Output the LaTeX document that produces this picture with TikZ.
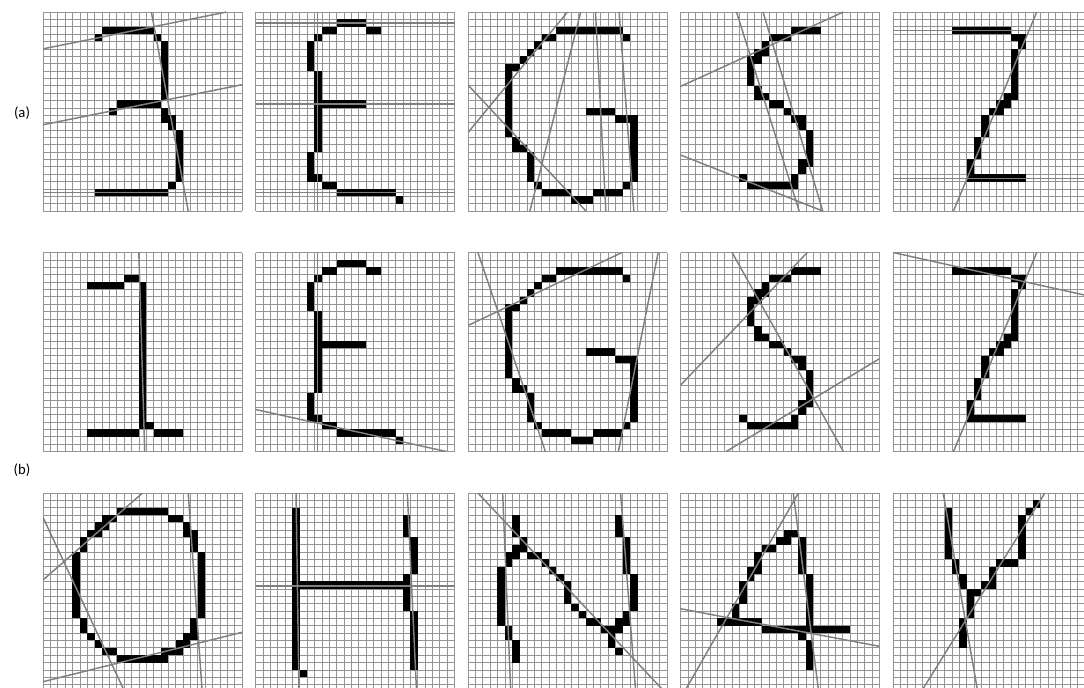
\documentclass[tikz,border=0pt]{standalone}
\usepackage{fontspec}
\setmainfont{Carlito}
\usetikzlibrary{positioning}

% glyph cells: first col/first row/last col/last row
\newcommand{\glyphThree}{8/2/14/2, 7/3/7/3, 15/3/15/3, 16/4/16/11, 10/12/15/12, 9/13/9/13,
  16/13/16/14, 17/14/17/15, 18/16/18/22, 17/23/17/23, 7/24/16/24}
\newcommand{\glyphE}{11/1/14/1, 9/2/10/2, 15/2/16/2, 8/3/8/3, 7/4/7/7, 8/8/8/18, 9/12/14/12,
  7/19/7/22, 8/22/8/22, 9/23/10/23, 11/24/18/24, 19/25/19/25}
\newcommand{\glyphG}{12/2/20/2, 21/3/21/3, 10/3/11/3, 9/4/9/4, 8/5/8/5, 7/6/7/6, 5/7/6/7,
  5/8/5/16, 6/17/6/18, 7/18/7/18, 8/19/8/22, 9/23/9/23, 10/24/13/24, 14/25/16/25,
  17/24/20/24, 21/23/21/23, 22/14/22/22, 20/14/21/14, 16/13/19/13}
\newcommand{\glyphS}{15/2/18/2, 12/3/14/3, 11/4/11/4, 10/5/11/5, 9/6/10/6, 9/7/9/9,
  10/10/10/11, 11/11/11/11, 12/12/13/12, 14/13/14/13, 15/14/16/14, 16/15/16/15,
  17/16/17/19, 16/20/17/20, 16/21/16/21, 15/22/15/23, 9/23/14/23, 8/22/8/22}
\newcommand{\glyphZ}{8/2/15/2, 16/3/17/3, 17/4/17/4, 16/5/16/10, 15/11/16/11, 14/12/15/12,
  13/13/14/13, 12/14/12/16, 11/17/11/19, 10/20/10/21, 10/22/17/22}
\newcommand{\glyphOne}{11/3/12/3, 6/4/10/4, 13/4/13/23, 14/23/14/23, 6/24/12/24, 15/24/18/24}
\newcommand{\glyphO}{10/2/16/2, 8/3/9/3, 17/3/18/3, 7/4/8/4, 19/4/19/5, 6/5/7/5, 20/5/20/7,
  5/6/5/7, 4/8/4/16, 21/8/21/16, 5/17/5/18, 20/17/20/19, 6/19/6/19, 19/19/19/20,
  7/20/7/20, 18/20/18/20, 8/21/9/21, 16/21/18/21, 10/22/16/22}
\newcommand{\glyphH}{5/2/5/23, 6/24/6/24, 6/12/20/12, 20/3/20/5, 21/6/21/10, 20/11/20/15,
  21/16/21/23}
\newcommand{\glyphN}{6/3/6/5, 7/6/7/6, 6/7/7/7, 5/8/6/8, 5/9/5/9, 4/10/4/17, 5/18/5/19,
  6/20/6/22, 8/8/9/8, 10/9/10/9, 11/10/11/10, 12/11/12/11, 13/12/13/14, 14/15/14/15,
  15/16/15/16, 16/17/17/17, 18/18/19/18, 19/19/19/20, 20/21/20/21, 20/17/20/18,
  21/16/21/17, 22/11/22/15, 21/6/21/10, 20/3/20/5}
\newcommand{\glyphFour}{14/5/15/5, 13/6/14/6, 11/7/12/7, 10/8/10/10, 9/10/9/11, 8/12/8/14,
  7/15/7/16, 5/17/10/17, 11/18/22/18, 16/6/16/10, 17/11/17/17, 16/19/16/19, 17/20/17/23}
\newcommand{\glyphY}{7/2/7/8, 8/9/8/10, 9/11/9/12, 10/13/11/13, 10/14/10/16, 9/17/9/20,
  19/1/19/1, 18/2/18/2, 17/3/17/8, 14/9/16/9, 13/10/13/11, 12/12/13/12}

% #1 column, #2 row, #3 glyph, #4 fitted lines
\newcommand{\drawpanel}[4]{%
  \begin{scope}[shift={({43+212.5*#1},{12+240.5*#2})}, x=5.528pt, y=-5.528pt]
    \foreach \k in {0,...,27} {
      \draw[cellgrid] (\k,0) -- (\k,27);
      \draw[cellgrid] (0,\k) -- (27,\k);
    }
    \foreach \a/\b/\c/\d in #3 {\fill[black] (\a,\b) rectangle (\c+1,\d+1);}
    \begin{scope}
      \clip (0,0) rectangle (27,27);
      #4
    \end{scope}
  \end{scope}}

\begin{document}
\begin{tikzpicture}[
  x=0.75pt, y=-0.75pt,
  cellgrid/.style={draw=black!42, line width=0.45pt},
  fitline/.style={draw=black!50, line width=1.1pt},
  tag/.style={font=\fontsize{11}{13}\selectfont, inner sep=0pt},
]
\clip (0,0) rectangle (1084,688);
\fill[white] (0,0) rectangle (1084,688);
\node[tag] (laba) at (22,113) {(a)};
\node[tag] (labb) at (22,470) {(b)};
% row (a)
\drawpanel{0}{0}{\glyphThree}{\draw[fitline] (0,5) -- (24.9,0); \draw[fitline] (0,15.3) -- (27,9.86);
  \draw[fitline] (0,24.5) -- (27,24.5); \draw[fitline] (14.7,0) -- (19.7,27);}
\drawpanel{1}{0}{\glyphE}{\draw[fitline] (0,1.5) -- (27,1.5); \draw[fitline] (0,12.5) -- (27,12.5);
  \draw[fitline] (0,24.5) -- (27,24.5); \draw[fitline] (8.4,0) -- (8.4,27);}
\drawpanel{2}{0}{\glyphG}{\draw[fitline] (0,16.35) -- (13.5,0); \draw[fitline] (0,9.9) -- (16,27);
  \draw[fitline] (15.3,0) -- (8.4,27); \draw[fitline] (17.3,0) -- (18.7,27);
  \draw[fitline] (20.5,0) -- (22.5,27);}
\drawpanel{3}{0}{\glyphS}{\draw[fitline] (0,10.1) -- (22.1,0); \draw[fitline] (7.6,0) -- (16.1,27);
  \draw[fitline] (11.2,0) -- (19.3,27); \draw[fitline] (0,19.4) -- (19.3,27);}
\drawpanel{4}{0}{\glyphZ}{\draw[fitline] (0,2.5) -- (27,2.5); \draw[fitline] (0,22.6) -- (27,22.6);
  \draw[fitline] (19.5,0) -- (8.2,27);}
% row (b), upper
\drawpanel{0}{1}{\glyphOne}{\draw[fitline] (13,0) -- (13.8,27);}
\drawpanel{1}{1}{\glyphE}{\draw[fitline] (8.4,0) -- (8.4,27); \draw[fitline] (0,21.3) -- (25.9,27);}
\drawpanel{2}{1}{\glyphG}{\draw[fitline] (0,9.9) -- (20.9,0); \draw[fitline] (1.35,0) -- (10.5,27);
  \draw[fitline] (25.8,0) -- (20.4,27);}
\drawpanel{3}{1}{\glyphS}{\draw[fitline] (7,0) -- (22.1,27); \draw[fitline] (0,18) -- (17.2,0);
  \draw[fitline] (6.2,27) -- (27,14.4);}
\drawpanel{4}{1}{\glyphZ}{\draw[fitline] (0,0) -- (27,6); \draw[fitline] (19.5,0) -- (8.2,27);}
% row (b), lower
\drawpanel{0}{2}{\glyphO}{\draw[fitline] (0,11.8) -- (13.5,0); \draw[fitline] (0,3.3) -- (11.1,27);
  \draw[fitline] (19.7,0) -- (21.6,27); \draw[fitline] (0,25.6) -- (27,18.9);}
\drawpanel{1}{2}{\glyphH}{\draw[fitline] (5.5,0) -- (5.9,27); \draw[fitline] (20.6,0) -- (21.85,27);
  \draw[fitline] (0,12.6) -- (27,12.6);}
\drawpanel{2}{2}{\glyphN}{\draw[fitline] (1.34,0) -- (26.7,27); \draw[fitline] (4.7,0) -- (5.8,27);
  \draw[fitline] (20.7,0) -- (22.75,27);}
\drawpanel{3}{2}{\glyphFour}{\draw[fitline] (0,15.7) -- (27,20.8); \draw[fitline] (0.5,27) -- (16,0);
  \draw[fitline] (15.3,0) -- (18.75,27);}
\drawpanel{4}{2}{\glyphY}{\draw[fitline] (6.8,0) -- (11.5,27); \draw[fitline] (20.6,0) -- (3.8,27);}
\end{tikzpicture}
\end{document}
